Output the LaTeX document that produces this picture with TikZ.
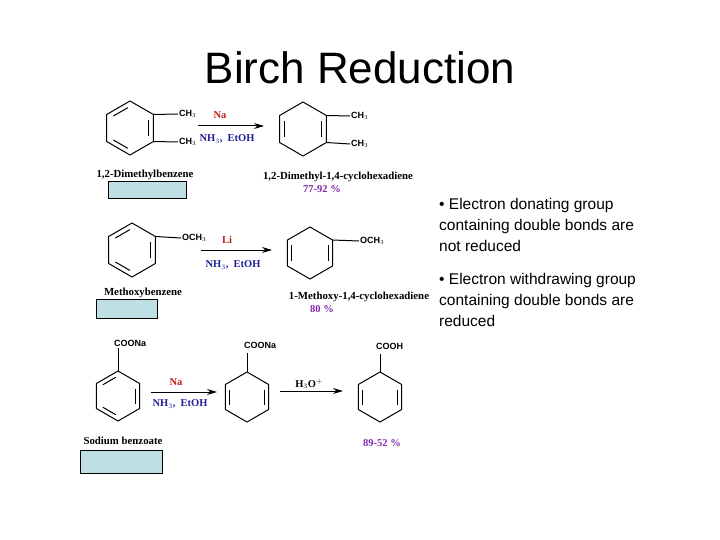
\documentclass[tikz,border=0pt]{standalone}
\usepackage{fontspec}
\setmainfont{Liberation Serif}
\setsansfont{Liberation Sans}
\usetikzlibrary{calc,arrows.meta}

% ring of six corners: name, centre x, centre y, radius
\newcommand\hexring[4]{%
  \coordinate (#1) at (#2,#3);
  \foreach \k/\a in {1/-90,2/-30,3/30,4/90,5/150,6/210}
    \coordinate (#1-\k) at ($(#1)+(\a:#4)$);
  \draw[bond] (#1-1)--(#1-2)--(#1-3)--(#1-4)--(#1-5)--(#1-6)--cycle;}
% inner line of a double bond
\newcommand\dbond[3]{%
  \draw[bond, shorten <=2.5pt, shorten >=2.5pt]
    ($(#1)!0.8!(#1-#2)$) -- ($(#1)!0.8!(#1-#3)$);}

\begin{document}
\begin{tikzpicture}[x=1pt,y=-1pt,
  bond/.style={line width=1pt},
  group/.style={font=\sffamily\bfseries\fontsize{9}{10}\selectfont, inner sep=1pt},
  cname/.style={font=\bfseries\fontsize{10.8}{11}\selectfont},
  metal/.style={font=\bfseries\fontsize{10.5}{11}\selectfont, text={rgb,255:red,190;green,30;blue,30}},
  solvent/.style={font=\bfseries\fontsize{10.5}{11}\selectfont, text={rgb,255:red,30;green,30;blue,150}},
  yield/.style={font=\bfseries\fontsize{10.5}{11}\selectfont, text={rgb,255:red,130;green,40;blue,170}},
  blank/.style={draw, fill={rgb,255:red,190;green,224;blue,228}, line width=0.7pt},
  react/.style={line width=1pt, -{Stealth[length=10pt,width=6pt]}},
  bullet/.style={font=\sffamily\fontsize{15.5}{21}\selectfont, align=left, anchor=north west, inner sep=0pt}]
\useasboundingbox (0,0) rectangle (720,540);

\node[font=\sffamily\fontsize{44}{48}\selectfont] (title) at (360,68) {Birch Reduction};

% first reaction
\hexring{xa}{130}{128}{27}
\dbond{xa}{6}{1} \dbond{xa}{2}{3} \dbond{xa}{4}{5}
\node[group, anchor=west] (xm1) at (178,114) {CH$_3$};
\node[group, anchor=west] (xm2) at (178,142) {CH$_3$};
\draw[bond] (xa-2) -- (xm1.west);
\draw[bond] (xa-3) -- (xm2.west);
\coordinate (a1) at (198,126);
\coordinate (a2) at (264,126);
\draw[react] (a1) -- (a2);
\node[metal] (na1) at (220,115) {Na};
\node[solvent] (sv1) at (227,139) {NH$_3$,~ EtOH};
\hexring{xb}{303}{129}{27}
\dbond{xb}{5}{6} \dbond{xb}{2}{3}
\node[group, anchor=west] (xm3) at (350,116) {CH$_3$};
\node[group, anchor=west] (xm4) at (350,144) {CH$_3$};
\draw[bond] (xb-2) -- (xm3.west);
\draw[bond] (xb-3) -- (xm4.west);
\node[cname] (n1) at (145,175) {1,2-Dimethylbenzene};
\draw[blank] (108,181) rectangle (186,198);
\node[cname] (n2) at (338,177) {1,2-Dimethyl-1,4-cyclohexadiene};
\node[yield] (y1) at (322,189) {77-92 \%};

% second reaction
\hexring{ma}{132}{250}{27}
\dbond{ma}{6}{1} \dbond{ma}{2}{3} \dbond{ma}{4}{5}
\node[group, anchor=west] (mo1) at (181,238) {OCH$_3$};
\draw[bond] (ma-2) -- (mo1.west);
\coordinate (b1) at (201,250);
\coordinate (b2) at (272,250);
\draw[react] (b1) -- (b2);
\node[metal] (li) at (227,240) {Li};
\node[solvent] (sv2) at (233,265) {NH$_3$,~ EtOH};
\hexring{mb}{310}{253}{26}
\dbond{mb}{5}{6} \dbond{mb}{2}{3}
\node[group, anchor=west] (mo2) at (359,241) {OCH$_3$};
\draw[bond] (mb-2) -- (mo2.west);
\node[cname] (n3) at (143,293) {Methoxybenzene};
\draw[blank] (96,299) rectangle (157,318);
\node[cname] (n4) at (359,297) {1-Methoxy-1,4-cyclohexadiene};
\node[yield] (y2) at (322,309) {80 \%};

% third reaction
\hexring{sa}{118}{396}{25}
\dbond{sa}{6}{1} \dbond{sa}{2}{3} \dbond{sa}{4}{5}
\node[group, anchor=south west] (co1) at (113,348) {COONa};
\draw[bond] (sa-1) -- (118,348);
\coordinate (c1) at (151,392);
\coordinate (c2) at (217,392);
\draw[react] (c1) -- (c2);
\node[metal] (na2) at (176,382) {Na};
\node[solvent] (sv3) at (180,404) {NH$_3$,~ EtOH};
\hexring{sb}{247}{397}{25}
\dbond{sb}{5}{6} \dbond{sb}{2}{3}
\node[group, anchor=south west] (co2) at (243,350) {COONa};
\draw[bond] (sb-1) -- (247,353);
\coordinate (d1) at (280,391);
\coordinate (d2) at (343,391);
\draw[react] (d1) -- (d2);
\node[font=\bfseries\fontsize{10.5}{11}\selectfont] (h3o) at (309,384) {H$_3$O$^+$};
\hexring{sc}{380}{397}{25}
\dbond{sc}{5}{6} \dbond{sc}{2}{3}
\node[group, anchor=south west] (co3) at (375,351) {COOH};
\draw[bond] (sc-1) -- (380,354);
\node[cname] (n5) at (123,441) {Sodium benzoate};
\draw[blank] (80,450) rectangle (162,473);
\node[yield] (y3) at (382,443) {89-52 \%};

% notes
\node[bullet] (p1) at (439,198) {\textbullet\ Electron donating group\\containing double bonds are\\not reduced};
\node[bullet] (p2) at (439,273) {\textbullet\ Electron withdrawing group\\containing double bonds are\\reduced};
\end{tikzpicture}
\end{document}
